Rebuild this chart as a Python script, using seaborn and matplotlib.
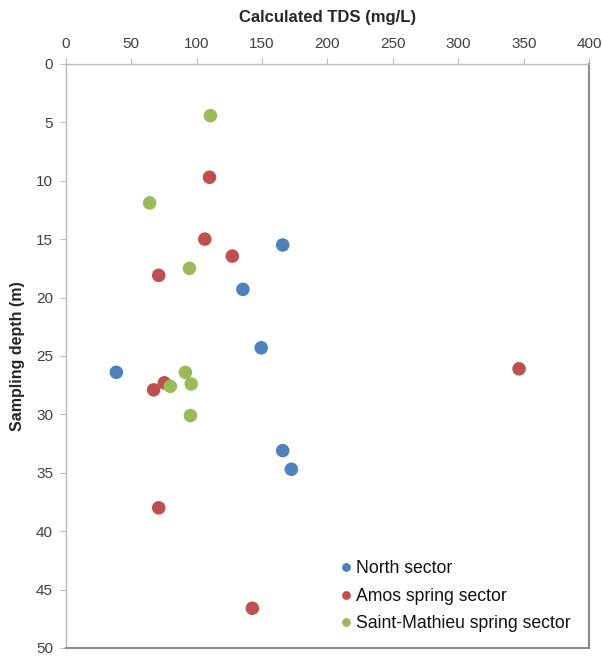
import matplotlib
matplotlib.use("Agg")
import matplotlib.pyplot as plt
import seaborn as sns
import pandas as pd

# Data
north_tds   = [165.8, 135.4, 149.4, 38.7, 165.8, 172.4]
north_depth = [15.5, 19.3, 24.3, 26.4, 33.1, 34.7]

amos_tds   = [109.9, 106.3, 127.3, 71.1, 346.3, 75.4, 67.2, 71.1, 142.6]
amos_depth = [9.7, 15.0, 16.45, 18.1, 26.1, 27.3, 27.9, 38.0, 46.6]

stm_tds   = [110.6, 64.2, 94.6, 91.5, 95.9, 80.0, 95.3]
stm_depth = [4.43, 11.9, 17.5, 26.4, 27.4, 27.6, 30.1]

SECTORS = ["North sector", "Amos spring sector", "Saint-Mathieu spring sector"]
COLORS  = ["#4F81BD", "#C0504D", "#9BBB59"]

df = pd.concat([
    pd.DataFrame({"tds": north_tds, "depth": north_depth, "sector": SECTORS[0]}),
    pd.DataFrame({"tds": amos_tds, "depth": amos_depth, "sector": SECTORS[1]}),
    pd.DataFrame({"tds": stm_tds, "depth": stm_depth, "sector": SECTORS[2]}),
], ignore_index=True)

sns.set_style("white")
plt.rcParams["font.family"] = ["Liberation Sans", "DejaVu Sans"]

fig = plt.figure(figsize=(6.02, 6.57), dpi=100)
ax = fig.add_axes([0.109, 0.0137, 0.870, 0.889])

sns.scatterplot(data=df, x="tds", y="depth", hue="sector", hue_order=SECTORS,
                palette=COLORS, s=95, edgecolor="none", ax=ax, legend=True)

ax.set_xlim(0, 400)
ax.set_ylim(50, 0)
ax.set_xticks(range(0, 401, 50))
ax.set_yticks(range(0, 51, 5))
ax.xaxis.tick_top()
ax.xaxis.set_label_position("top")
ax.tick_params(axis="both", labelsize=11, colors="#404040", length=4,
               width=0.8, direction="out")
ax.tick_params(axis="x", color="#BBBBBB", top=True, bottom=False, pad=5)
ax.tick_params(axis="y", color="#BBBBBB", left=True, pad=5)

ax.set_xlabel("Calculated TDS (mg/L)", fontsize=12, fontweight="bold", labelpad=11)
ax.set_ylabel("Sampling depth (m)", fontsize=11.5, fontweight="bold", labelpad=8)

for side in ["top", "left"]:
    ax.spines[side].set_color("#BBBBBB")
    ax.spines[side].set_linewidth(1.0)
for side in ["right", "bottom"]:
    ax.spines[side].set_color("#8C8C8C")
    ax.spines[side].set_linewidth(1.5)

leg = ax.legend(loc="lower left", bbox_to_anchor=(0.488, 0.0154), frameon=False,
                fontsize=12.7, handletextpad=-0.43, labelspacing=0.58,
                markerscale=0.65, borderaxespad=0)
for t in leg.get_texts():
    t.set_color("#111111")

plt.savefig("out.png", dpi=100)
plt.close()
